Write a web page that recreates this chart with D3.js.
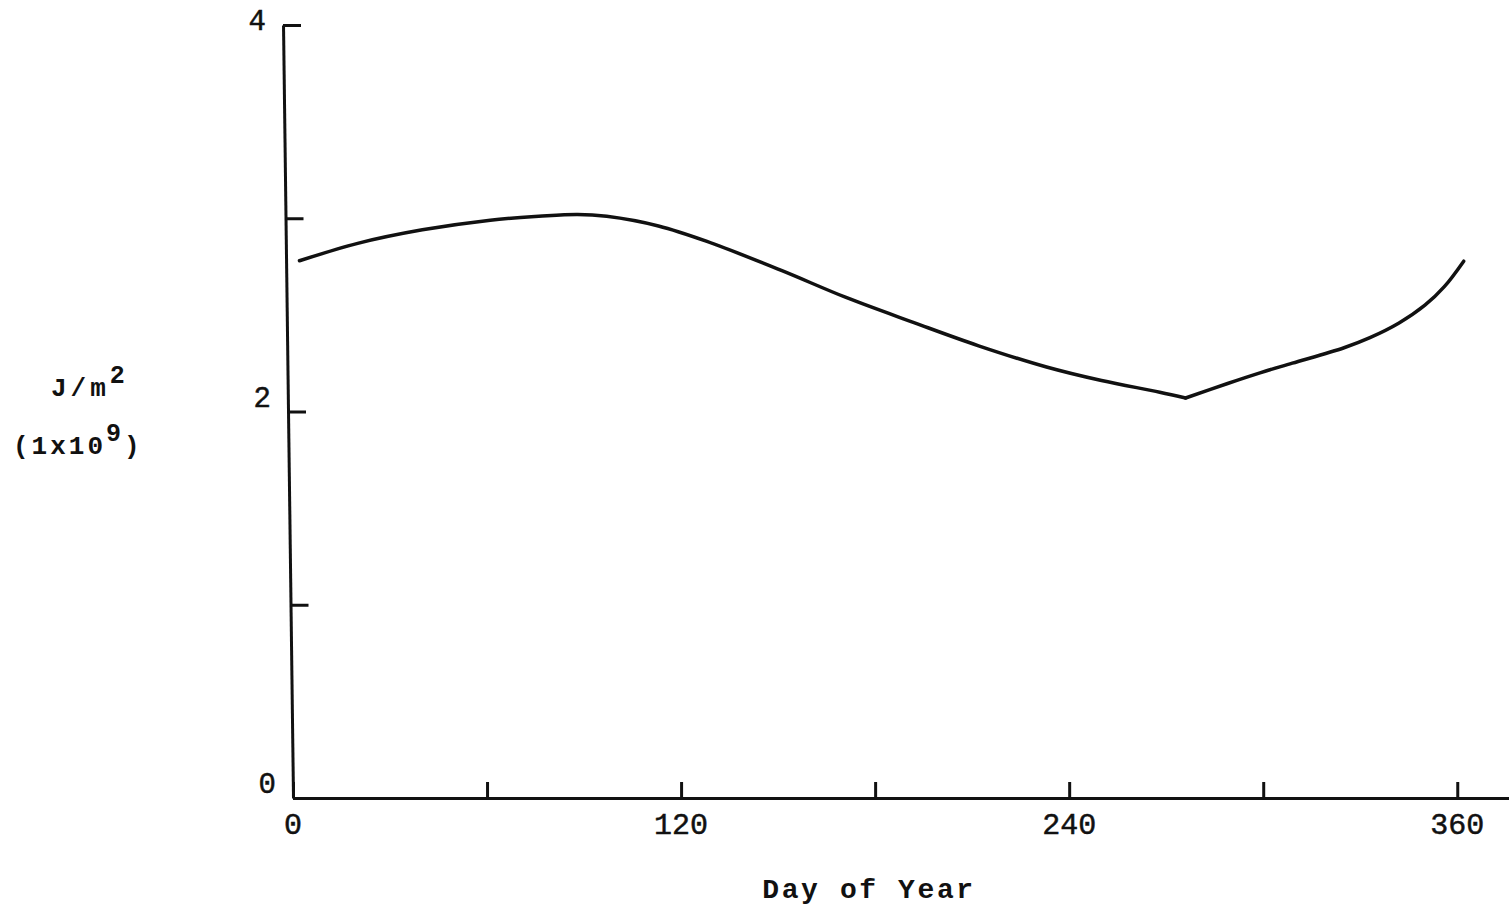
<!DOCTYPE html>
<html>
<head>
<meta charset="utf-8">
<script src="https://cdn.jsdelivr.net/npm/d3@7"></script>
<style>
  body { margin: 0; background: #fff; }
  svg { display: block; }
</style>
</head>
<body>
<svg id="chart" width="1509" height="914"></svg>
<script>
// values
var days = [2, 20, 40, 61, 76, 88, 97, 113, 128, 151, 171, 192, 212, 233, 250, 268, 276, 289, 299, 309, 325, 333, 342, 350, 356, 362];
var energy = [2.78, 2.87, 2.94, 2.99, 3.01, 3.02, 3.01, 2.96, 2.88, 2.73, 2.59, 2.46, 2.34, 2.23, 2.16, 2.10, 2.07, 2.145, 2.20, 2.25, 2.33, 2.382, 2.458, 2.55, 2.646, 2.778];
var minDay = 276;
var xTicks = [0, 60, 120, 180, 240, 300, 360];
var xLabels = [0, 120, 240, 360];
var yTicks = [0, 1, 2, 3, 4];
var yLabels = [0, 2, 4];

var margin = {top: 25, left: 293, bottom: 116};

var svg = d3.select("#chart");

var x = d3.scaleLinear()
  .domain([0, 376])
  .range([margin.left, 1509]);

var y = d3.scaleLinear()
  .domain([0, 4])
  .range([798, margin.top]);

var ink = "#111";
var mono = "'Liberation Mono', monospace";

// x axis, ticks pointing up into the plot
var xAxis = svg.append("g")
  .attr("transform", "translate(0,798)")
  .call(d3.axisTop(x).tickValues(xTicks).tickSize(16).tickSizeOuter(0).tickFormat(""));
xAxis.select("path.domain").attr("stroke", ink).attr("stroke-width", 3);
xAxis.selectAll(".tick line").attr("stroke", ink).attr("stroke-width", 3);

svg.append("g")
  .selectAll("text")
  .data(xLabels)
  .join("text")
    .attr("x", d => x(d))
    .attr("y", 834)
    .attr("text-anchor", "middle")
    .style("font-family", mono)
    .style("font-size", "30px")
    .attr("fill", ink)
    .attr("stroke", ink)
    .attr("stroke-width", 0.5)
    .text(d => d);

// y axis, slightly leaning like the scanned original
var yAxis = svg.append("g")
  .attr("transform", "translate(" + margin.left + ",798) skewX(0.74) translate(0,-798)")
  .call(d3.axisRight(y).tickValues(yTicks).tickSize(18).tickSizeOuter(0).tickFormat(""));
yAxis.select("path.domain").attr("stroke", ink).attr("stroke-width", 3);
yAxis.selectAll(".tick line").attr("stroke", ink).attr("stroke-width", 3);

svg.append("g")
  .selectAll("text")
  .data(yLabels)
  .join("text")
    .attr("x", d => margin.left - 17 - (798 - y(d)) * 0.0129)
    .attr("y", d => d == 4 ? y(d) + 5 : y(d) - 5)
    .attr("text-anchor", "end")
    .style("font-family", mono)
    .style("font-size", "29px")
    .attr("fill", ink)
    .attr("stroke", ink)
    .attr("stroke-width", 0.5)
    .text(d => d);

// the curve, with the sharp corner at its minimum
var data = days.map((d, i) => ({day: d, value: energy[i]}));
var line = d3.line()
  .x(d => x(d.day))
  .y(d => y(d.value))
  .curve(d3.curveCatmullRom.alpha(0.5));

svg.append("g")
  .selectAll("path")
  .data([data.filter(d => d.day <= minDay), data.filter(d => d.day >= minDay)])
  .join("path")
    .attr("d", line)
    .attr("fill", "none")
    .attr("stroke", ink)
    .attr("stroke-width", 3.5)
    .attr("stroke-linecap", "round")
    .attr("stroke-linejoin", "round");

// axis titles
svg.append("text")
  .attr("x", 869)
  .attr("y", 898)
  .attr("text-anchor", "middle")
  .style("font-family", mono)
  .style("font-size", "28px")
  .style("font-weight", "bold")
  .style("letter-spacing", "2.6px")
  .attr("fill", ink)
  .text("Day of Year");

var unit = svg.append("text")
  .attr("x", 51)
  .attr("y", 396)
  .style("font-family", mono)
  .style("font-size", "26px")
  .style("font-weight", "bold")
  .attr("fill", ink);
unit.append("tspan").style("letter-spacing", "4px").text("J/m");
unit.append("tspan").attr("dy", -13).style("font-size", "25px").text("2");

var scale = svg.append("text")
  .attr("x", 13)
  .attr("y", 454)
  .style("font-family", mono)
  .style("font-size", "26px")
  .style("font-weight", "bold")
  .attr("fill", ink);
scale.append("tspan").style("letter-spacing", "3px").text("(1x10");
scale.append("tspan").attr("dy", -13).style("font-size", "25px").text("9");
scale.append("tspan").attr("dy", 13).attr("dx", 3).text(")");
</script>
</body>
</html>
